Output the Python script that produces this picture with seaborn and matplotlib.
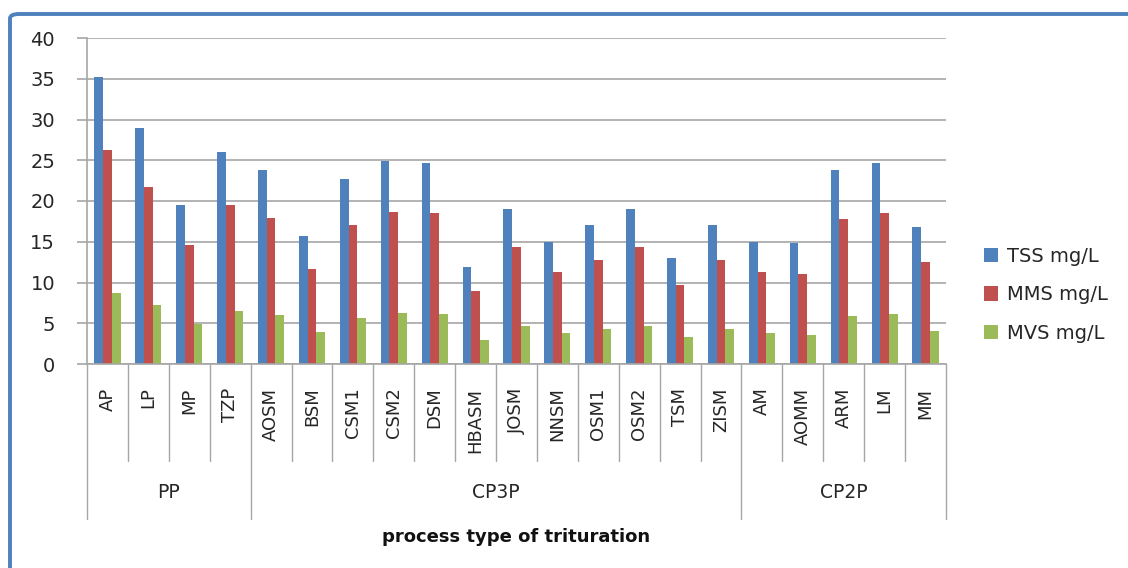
import seaborn as sns
import pandas as pd
import matplotlib
matplotlib.use('Agg')
import matplotlib.pyplot as plt
from matplotlib.patches import FancyBboxPatch
from matplotlib.transforms import blended_transform_factory

# chart data
samples = ['AP', 'LP', 'MP', 'TZP',
           'AOSM', 'BSM', 'CSM1', 'CSM2', 'DSM', 'HBASM', 'JOSM', 'NNSM',
           'OSM1', 'OSM2', 'TSM', 'ZISM',
           'AM', 'AOMM', 'ARM', 'LM', 'MM']
groups = ['PP', 'CP3P', 'CP2P']
group_sizes = [4, 12, 5]
series = ['TSS mg/L', 'MMS mg/L', 'MVS mg/L']
tss = [35.2, 29.0, 19.5, 26.0,
       23.8, 15.7, 22.7, 24.9, 24.7, 11.9, 19.0, 15.0, 17.0, 19.0, 13.0, 17.0,
       15.0, 14.8, 23.8, 24.7, 16.8]
mms = [26.3, 21.7, 14.6, 19.5,
       17.9, 11.7, 17.0, 18.7, 18.5, 8.9, 14.3, 11.3, 12.8, 14.3, 9.7, 12.8,
       11.3, 11.0, 17.8, 18.5, 12.5]
mvs = [8.7, 7.2, 4.95, 6.5,
       6.0, 3.9, 5.6, 6.2, 6.1, 3.0, 4.7, 3.8, 4.3, 4.7, 3.3, 4.3,
       3.8, 3.6, 5.9, 6.1, 4.1]
colors = ['#4F81BD', '#C0504D', '#9BBB59']

df = pd.DataFrame({'sample': samples, series[0]: tss, series[1]: mms, series[2]: mvs})
long = df.melt('sample', var_name='series', value_name='value')

sns.set_style('white')
plt.rcParams['font.family'] = ['DejaVu Sans']

fig = plt.figure(figsize=(11.28, 5.68), dpi=100)
ax = fig.add_axes([87 / 1128, 1 - 364 / 568, (946 - 87) / 1128, 326 / 568])

sns.barplot(data=long, x='sample', y='value', hue='series', order=samples,
            hue_order=series, palette=colors, saturation=1, width=0.64,
            linewidth=0, ax=ax)

ax.set_ylim(0, 40)
ax.set_xlim(-0.5, len(samples) - 0.5)
ax.set_yticks(range(0, 41, 5))
ax.yaxis.grid(True, color='#A6A6A6', linewidth=1.2)
ax.set_axisbelow(True)
for s in ['top', 'right']:
    ax.spines[s].set_visible(False)
for s in ['left', 'bottom']:
    ax.spines[s].set_color('#A6A6A6')
    ax.spines[s].set_linewidth(1.2)
ax.tick_params(axis='y', length=7, color='#A6A6A6', width=1.2, labelsize=14,
               pad=16, left=True, labelcolor='#262626')
ax.tick_params(axis='x', length=0, labelsize=13, pad=17, labelcolor='#262626')
ax.set_xticks(range(len(samples)))
ax.set_xticklabels(samples, rotation=90, va='top')
ax.set_xlabel('')
ax.set_ylabel('')

# category separators (multi-level axis)
trans = blended_transform_factory(ax.transData, ax.transAxes)
inner_bottom = (364 - 461) / 326
outer_bottom = (364 - 519) / 326
bounds = [0]
for n in group_sizes:
    bounds.append(bounds[-1] + n)
for i in range(len(samples) + 1):
    yb = outer_bottom if i in bounds else inner_bottom
    ax.plot([i - 0.5, i - 0.5], [0, yb], transform=trans, color='#A6A6A6',
            linewidth=1.0, clip_on=False)
for g, a, b in zip(groups, bounds[:-1], bounds[1:]):
    ax.text((a + b - 1) / 2, (364 - 493) / 326, g, transform=trans,
            ha='center', va='center', fontsize=13.5, color='#262626')

ax.text(0.5, (364 - 537) / 326, 'process type of trituration', transform=ax.transAxes,
        ha='center', va='center', fontsize=13, fontweight='bold', color='#111111')

ax.legend(loc='center left', bbox_to_anchor=(1.044, 0.212), frameon=False,
          borderpad=0, borderaxespad=0,
          handlelength=0.75, handleheight=0.75, labelspacing=1.0,
          handletextpad=0.45, fontsize=14)

# outer chart border (cropped at right and bottom)
border = FancyBboxPatch((10 / 1128, -0.2), 1.3, 1.2 - 14 / 568,
                        boxstyle='round,pad=0,rounding_size=0.008',
                        transform=fig.transFigure, fill=False,
                        edgecolor='#4F81BD', linewidth=2.8, clip_on=False)
fig.patches.append(border)

fig.savefig('out.png', dpi=100)
